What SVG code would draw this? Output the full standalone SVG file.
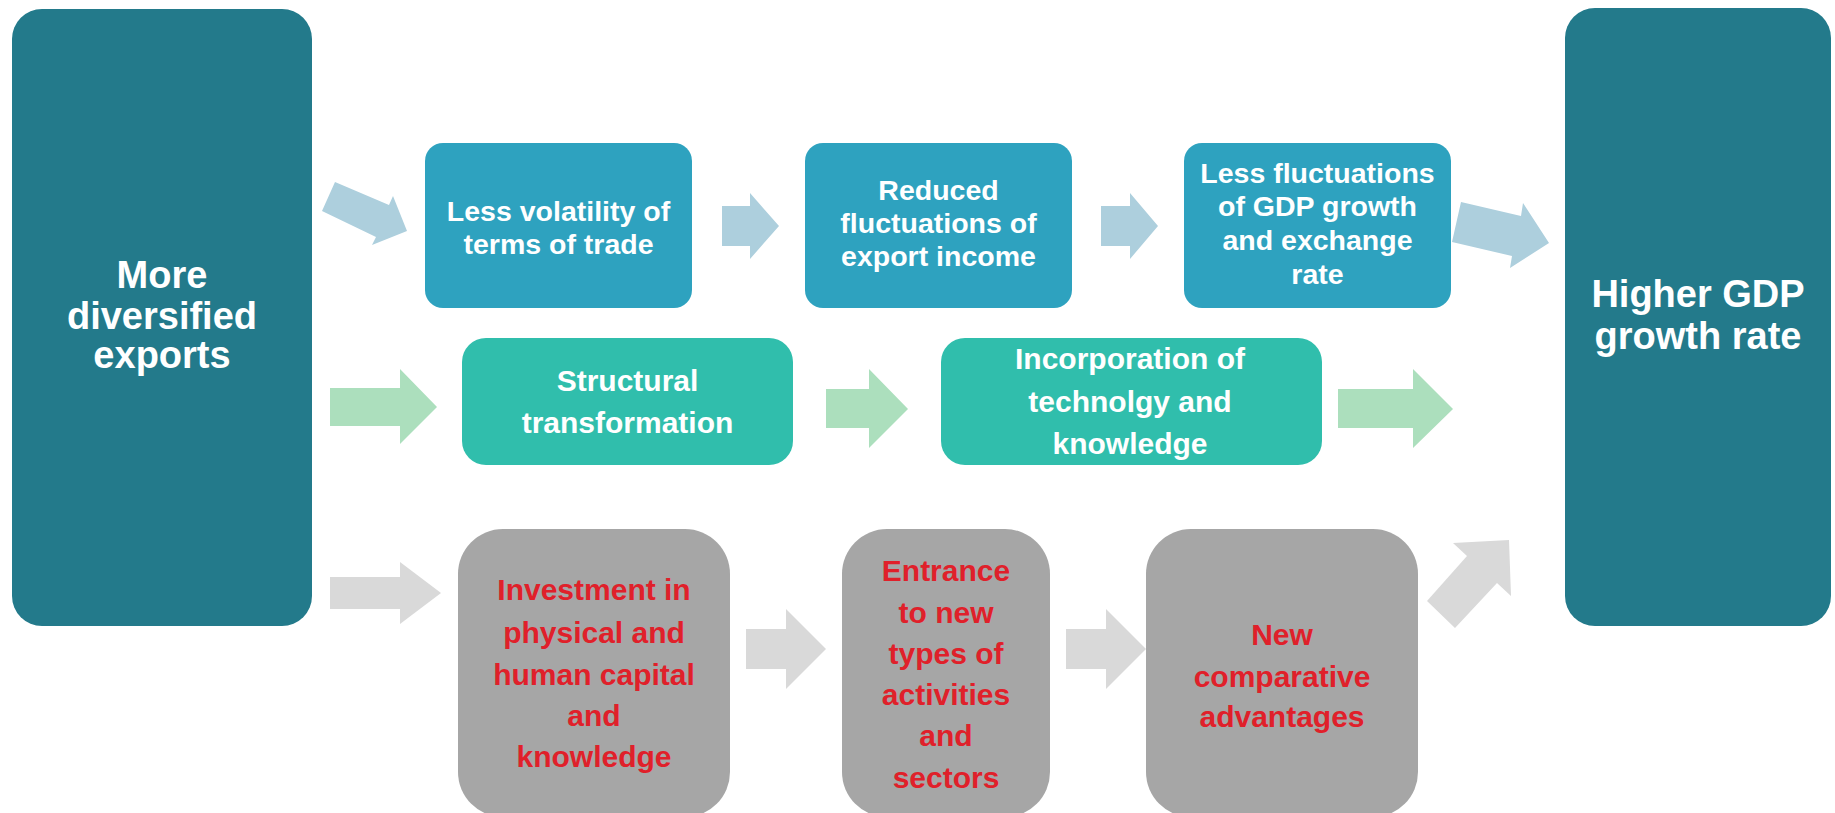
<svg xmlns="http://www.w3.org/2000/svg" width="1835" height="813" viewBox="0 0 1835 813">
<style>
.main{fill:#237A8B}
.blue{fill:#2EA2BF}
.green{fill:#30BEAC}
.gray{fill:#A6A6A6}
text{font-family:"Liberation Sans",Arial,sans-serif;font-weight:bold;text-anchor:middle}
.w{fill:#FFFFFF}
.big{font-size:38px}
.mid{font-size:28.5px}
.g{font-size:30px}
.r{fill:#E0202A;font-size:30px}
.ab{fill:#ADCFDD}
.ag{fill:#ACDFBD}
.ar{fill:#D9D9D9}
</style>
<rect width="1835" height="813" fill="#FFFFFF"/>
<g id="connectors">
<polygon class="ab" points="335,182 389,205 393,196 407,231 372,245 376,237 322,211"/>
<polygon class="ab" points="722,206 750,206 750,193 779,226 750,259 750,246 722,246"/>
<polygon class="ab" points="1101,206 1130,206 1130,193 1158,226 1130,259 1130,246 1101,246"/>
<polygon class="ab" points="1461,202 1521,216 1523,203 1549,243 1510,268 1512,256 1452,242"/>
<polygon class="ag" points="330,388 400,388 400,369 437,407 400,444 400,426 330,426"/>
<polygon class="ag" points="826,389 869,389 869,369 908,409 869,448 869,428 826,428"/>
<polygon class="ag" points="1338,389 1413,389 1413,369 1453,409 1413,448 1413,428 1338,428"/>
<polygon class="ar" points="330,577 400,577 400,562 441,593 400,624 400,609 330,609"/>
<polygon class="ar" points="746,629 786,629 786,609 826,649 786,689 786,669 746,669"/>
<polygon class="ar" points="1066,629 1106,629 1106,609 1146,649 1106,689 1106,669 1066,669"/>
<polygon class="ar" points="1427,601 1467,556 1453,543 1509,540 1511,596 1497,583 1455,628"/>
</g>
<g id="node-diversified">
<rect class="main" x="12" y="9" width="300" height="617" rx="30"/>
<text class="w big" x="162" y="288">More</text>
<text class="w big" x="162" y="329">diversified</text>
<text class="w big" x="162" y="368">exports</text>
</g>
<g id="node-higher-gdp">
<rect class="main" x="1565" y="8" width="266" height="618" rx="30"/>
<text class="w big" x="1698" y="307">Higher GDP</text>
<text class="w big" x="1698" y="349">growth rate</text>
</g>
<g id="node-volatility">
<rect class="blue" x="425" y="143" width="267" height="165" rx="18"/>
<text class="w mid" x="558.5" y="221">Less volatility of</text>
<text class="w mid" x="558.5" y="254">terms of trade</text>
</g>
<g id="node-export-income">
<rect class="blue" x="805" y="143" width="267" height="165" rx="18"/>
<text class="w mid" x="938.5" y="200">Reduced</text>
<text class="w mid" x="938.5" y="233">fluctuations of</text>
<text class="w mid" x="938.5" y="266">export income</text>
</g>
<g id="node-gdp-fluct">
<rect class="blue" x="1184" y="143" width="267" height="165" rx="18"/>
<text class="w mid" x="1317.5" y="183">Less fluctuations</text>
<text class="w mid" x="1317.5" y="216">of GDP growth</text>
<text class="w mid" x="1317.5" y="250">and exchange</text>
<text class="w mid" x="1317.5" y="284">rate</text>
</g>
<g id="node-structural">
<rect class="green" x="462" y="338" width="331" height="127" rx="24"/>
<text class="w g" x="627.5" y="391">Structural</text>
<text class="w g" x="627.5" y="433">transformation</text>
</g>
<g id="node-technology">
<rect class="green" x="941" y="338" width="381" height="127" rx="24"/>
<text class="w g" x="1130" y="369">Incorporation of</text>
<text class="w g" x="1130" y="412">technolgy and</text>
<text class="w g" x="1130" y="454">knowledge</text>
</g>
<g id="node-investment">
<rect class="gray" x="458" y="529" width="272" height="288" rx="45"/>
<text class="r" x="594" y="600">Investment in</text>
<text class="r" x="594" y="643">physical and</text>
<text class="r" x="594" y="685">human capital</text>
<text class="r" x="594" y="726">and</text>
<text class="r" x="594" y="767">knowledge</text>
</g>
<g id="node-entrance">
<rect class="gray" x="842" y="529" width="208" height="288" rx="45"/>
<text class="r" x="946" y="581">Entrance</text>
<text class="r" x="946" y="623">to new</text>
<text class="r" x="946" y="664">types of</text>
<text class="r" x="946" y="705">activities</text>
<text class="r" x="946" y="746">and</text>
<text class="r" x="946" y="788">sectors</text>
</g>
<g id="node-comparative">
<rect class="gray" x="1146" y="529" width="272" height="288" rx="45"/>
<text class="r" x="1282" y="645">New</text>
<text class="r" x="1282" y="687">comparative</text>
<text class="r" x="1282" y="727">advantages</text>
</g>
</svg>
